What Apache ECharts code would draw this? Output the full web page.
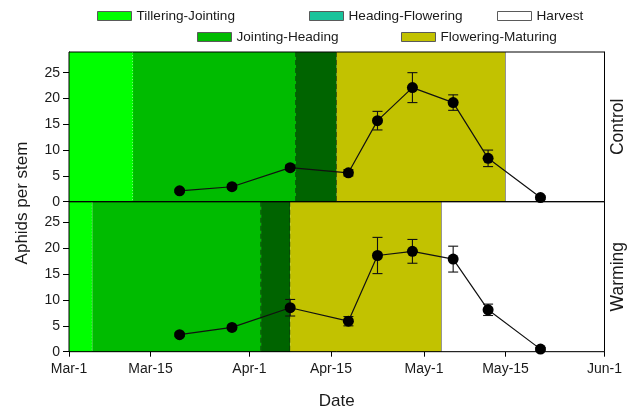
<!DOCTYPE html>
<html>
<head>
<meta charset="utf-8">
<script src="https://cdn.jsdelivr.net/npm/echarts@6/dist/echarts.min.js"></script>
<style>
  html, body { margin: 0; padding: 0; background: #fff; }
  #chart { width: 637px; height: 416px; }
</style>
</head>
<body>
<div id="chart"></div>
<script>
// ---- data -------------------------------------------------------------
const tickDates   = ['03-01', '03-15', '04-01', '04-15', '05-01', '05-15', '06-01'];
const tickLabels  = ['Mar-1', 'Mar-15', 'Apr-1', 'Apr-15', 'May-1', 'May-15', 'Jun-1'];
const yTicks      = [0, 5, 10, 15, 20, 25];

const sampleDates = ['03-20', '03-29', '04-08', '04-18', '04-23', '04-29', '05-06', '05-12', '05-21'];
const controlMean = [2.1, 2.9, 6.6, 5.6, 15.7, 22.1, 19.2, 8.4, 0.8];
const controlSE   = [0.3, 0.4, 0.5, 0.6, 1.8, 2.9, 1.5, 1.6, 0.3];
const warmingMean = [3.3, 4.7, 8.5, 5.9, 18.6, 19.4, 17.9, 8.1, 0.5];
const warmingSE   = [0.3, 0.4, 1.6, 0.9, 3.5, 2.3, 2.5, 1.1, 0.3];

const stageNames       = ['Tillering-Jointing', 'Jointing-Heading', 'Heading-Flowering', 'Flowering-Maturing', 'Harvest'];
const controlStageEnds = ['03-12', '04-09', '04-16', '05-15', '06-01'];
const warmingStageEnds = ['03-05', '04-03', '04-08', '05-04', '06-01'];

// ---- styling ----------------------------------------------------------
const FONT = 'Liberation Sans, Arial, Helvetica, sans-serif';
const TXT = '#1a1a1a';
const stageFill   = ['#00ff00', '#00bb00', '#006400', '#c2c200', '#ffffff'];
const legendFill  = ['#00ff00', '#00bb00', '#19c39b', '#c2c200', '#ffffff'];
// right-edge separator of each stage band
const stageEdge = [
  { color: 'rgba(235,255,235,0.95)', type: [1, 2], width: 1 },
  { color: '#102a10', type: [5, 3], width: 1.2 },
  { color: '#102a10', type: [5, 3], width: 1.2 },
  { color: '#333333', type: 'solid', width: 1 },
  null
];
const Y_MAX = 29;

// day offset from March 1
function dayOf(md) {
  const [m, d] = md.split('-').map(Number);
  return Math.round((Date.UTC(2013, m - 1, d) - Date.UTC(2013, 2, 1)) / 86400000);
}
const tickDays = tickDates.map(dayOf);
const sampleDays = sampleDates.map(dayOf);

// ---- builders ---------------------------------------------------------
function stageSeries(ends, gridIdx) {
  return stageNames.map((name, i) => {
    const start = i === 0 ? dayOf('03-01') : dayOf(ends[i - 1]);
    const end = dayOf(ends[i]);
    return {
      name,
      type: 'custom',
      xAxisIndex: gridIdx,
      yAxisIndex: gridIdx * 2,
      z: 1,
      silent: true,
      itemStyle: { color: legendFill[i] },
      encode: { x: [0, 1] },
      data: [[start, end]],
      renderItem(params, api) {
        const p0 = api.coord([api.value(0), Y_MAX]);
        const p1 = api.coord([api.value(1), 0]);
        const children = [{
          type: 'rect',
          shape: { x: p0[0], y: p0[1], width: p1[0] - p0[0], height: p1[1] - p0[1] },
          style: { fill: stageFill[i] }
        }];
        const edge = stageEdge[i];
        if (edge) {
          children.push({
            type: 'line',
            shape: { x1: p1[0], y1: p0[1], x2: p1[0], y2: p1[1] },
            style: { stroke: edge.color, lineWidth: edge.width, lineDash: edge.type === 'solid' ? null : edge.type }
          });
        }
        return { type: 'group', children };
      }
    };
  });
}

function errorSeries(mean, se, gridIdx) {
  return {
    type: 'custom',
    xAxisIndex: gridIdx,
    yAxisIndex: gridIdx * 2,
    z: 3,
    silent: true,
    encode: { x: 0, y: 1 },
    data: sampleDays.map((d, i) => [d, mean[i], se[i]]),
    renderItem(params, api) {
      const x = api.value(0), m = api.value(1), e = api.value(2);
      const hi = api.coord([x, m + e]);
      const lo = api.coord([x, m - e]);
      const cap = 5;
      const st = { stroke: '#111', lineWidth: 1.1 };
      return {
        type: 'group',
        children: [
          { type: 'line', shape: { x1: hi[0], y1: hi[1], x2: lo[0], y2: lo[1] }, style: st },
          { type: 'line', shape: { x1: hi[0] - cap, y1: hi[1], x2: hi[0] + cap, y2: hi[1] }, style: st },
          { type: 'line', shape: { x1: lo[0] - cap, y1: lo[1], x2: lo[0] + cap, y2: lo[1] }, style: st }
        ]
      };
    }
  };
}

function meanSeries(name, mean, gridIdx) {
  return {
    name,
    type: 'line',
    xAxisIndex: gridIdx,
    yAxisIndex: gridIdx * 2,
    z: 4,
    symbol: 'circle',
    symbolSize: 11,
    itemStyle: { color: '#000' },
    lineStyle: { color: '#111', width: 1.2 },
    data: sampleDays.map((d, i) => [d, mean[i]])
  };
}

function xAxis(gridIdx, showLabels) {
  return {
    type: 'value',
    gridIndex: gridIdx,
    min: dayOf('03-01'),
    max: dayOf('06-01'),
    splitLine: { show: false },
    axisLine: { show: true, onZero: false, lineStyle: { color: '#000', width: 1 } },
    axisTick: { show: showLabels, inside: false, length: 5, customValues: tickDays, lineStyle: { color: '#000' } },
    axisLabel: {
      show: showLabels,
      customValues: tickDays,
      margin: 10,
      fontFamily: FONT, fontSize: 14, color: TXT,
      formatter: v => tickLabels[tickDays.indexOf(v)]
    },
    name: showLabels ? 'Date' : '',
    nameLocation: 'middle',
    nameGap: 41,
    nameTextStyle: { fontFamily: FONT, fontSize: 17, color: TXT }
  };
}

function yAxes(gridIdx, panelName) {
  return [
    {
      type: 'value',
      gridIndex: gridIdx,
      min: 0,
      max: Y_MAX,
      splitLine: { show: false },
      axisLine: { show: true, lineStyle: { color: '#000', width: 1 } },
      axisTick: { show: true, length: 6, customValues: yTicks, lineStyle: { color: '#000' } },
      axisLabel: { customValues: yTicks, margin: 9, fontFamily: FONT, fontSize: 14, color: TXT }
    },
    {
      type: 'value',
      gridIndex: gridIdx,
      position: 'right',
      min: 0,
      max: Y_MAX,
      splitLine: { show: false },
      axisLine: { show: true, lineStyle: { color: '#000', width: 1 } },
      axisTick: { show: false },
      axisLabel: { show: false },
      name: panelName,
      nameLocation: 'middle',
      nameRotate: 90,
      nameGap: 5,
      nameTextStyle: { fontFamily: FONT, fontSize: 17.5, color: TXT, verticalAlign: 'top' }
    }
  ];
}

// legend placement: [left, top] of each stage entry
const legendPos = [[97, 9], [197, 30], [309, 9], [401, 30], [497, 9]];
const legends = stageNames.map((name, i) => ({
  left: legendPos[i][0],
  top: legendPos[i][1],
  padding: 0,
  icon: 'rect',
  itemWidth: 34,
  itemHeight: 9,
  selectedMode: false,
  itemStyle: { borderColor: '#5a5a5a', borderWidth: 1 },
  textStyle: { fontFamily: FONT, fontSize: 13.6, color: TXT },
  data: [{ name, itemStyle: { color: legendFill[i], borderColor: '#5a5a5a', borderWidth: 1 } }]
}));

const chart = echarts.init(document.getElementById('chart'), null, { renderer: 'canvas' });
chart.setOption({
  animation: false,
  backgroundColor: '#fff',
  legend: legends,
  grid: [
    { left: 69, right: 32.5, top: 52, height: 149.7, show: true, borderColor: '#000', borderWidth: 1, backgroundColor: 'transparent', z: 6 },
    { left: 69, right: 32.5, top: 201.7, height: 150, show: true, borderColor: '#000', borderWidth: 1, backgroundColor: 'transparent', z: 6 }
  ],
  xAxis: [xAxis(0, false), xAxis(1, true)],
  yAxis: [...yAxes(0, 'Control'), ...yAxes(1, 'Warming')],
  graphic: [{
    type: 'text',
    x: 22,
    y: 203,
    rotation: Math.PI / 2,
    style: {
      text: 'Aphids per stem',
      textAlign: 'center',
      textVerticalAlign: 'middle',
      font: '17px ' + FONT,
      fill: TXT
    }
  }],
  series: [
    ...stageSeries(controlStageEnds, 0),
    ...stageSeries(warmingStageEnds, 1),
    errorSeries(controlMean, controlSE, 0),
    errorSeries(warmingMean, warmingSE, 1),
    meanSeries('Control', controlMean, 0),
    meanSeries('Warming', warmingMean, 1)
  ]
});
</script>
</body>
</html>
